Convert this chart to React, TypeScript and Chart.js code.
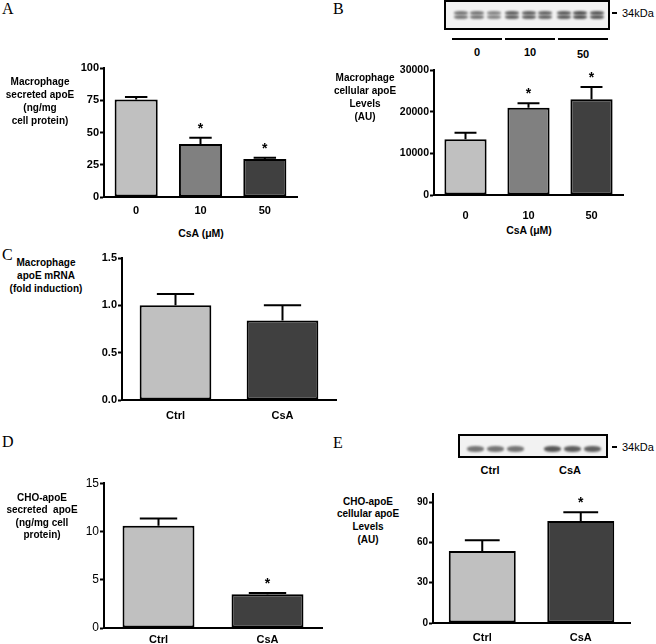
import React, { useEffect, useRef } from 'react';
import { Chart, registerables } from 'chart.js';

Chart.register(...registerables);

// ---------- DATA ----------
// Panel A: macrophage secreted apoE (ng/mg cell protein)
const aCategories = ['0', '10', '50'];
const aMeans = [75.5, 41, 29.5];
const aErrors = [2, 5, 1];
const aStars = [false, true, true];
const aTicks = [0, 25, 50, 75, 100];
const aMax = 100;

// Panel B: macrophage cellular apoE levels (AU)
const bCategories = ['0', '10', '50'];
const bMeans = [13400, 20950, 23000];
const bErrors = [1550, 1050, 2900];
const bStars = [false, true, true];
const bTicks = [0, 10000, 20000, 30000];
const bMax = 30000;

// Panel C: macrophage apoE mRNA (fold induction)
const cCategories = ['Ctrl', 'CsA'];
const cMeans = [1.0, 0.84];
const cErrors = [0.12, 0.16];
const cStars = [false, false];
const cTicks = [0, 0.5, 1.0, 1.5];
const cMax = 1.5;

// Panel D: CHO-apoE secreted apoE (ng/mg cell protein)
const dCategories = ['Ctrl', 'CsA'];
const dMeans = [10.6, 3.5];
const dErrors = [0.75, 0.12];
const dStars = [false, true];
const dTicks = [0, 5, 10, 15];
const dMax = 15;

// Panel E: CHO-apoE cellular apoE levels (AU)
const eCategories = ['Ctrl', 'CsA'];
const eMeans = [53.5, 76];
const eErrors = [8, 6.5];
const eStars = [false, true];
const eTicks = [0, 30, 60, 90];
const eMax = 96;

// Western blot band intensities (0..1)
const bBlotLanes = [0.6, 0.6, 0.5, 0.75, 0.75, 0.72, 0.78, 0.85, 0.8];
const eBlotLanes = [0.62, 0.62, 0.62, 0.82, 0.78, 0.76];

const colors3 = ['#c0c0c0', '#808080', '#404040'];
const colors2 = ['#c0c0c0', '#404040'];

const SANS = "'Liberation Sans', Arial, Helvetica, sans-serif";
const SERIF = "'Liberation Serif', 'Times New Roman', serif";

// ---------- PLUGIN: error bars + significance stars ----------
const errorBarPlugin = {
  id: 'errorBars',
  afterDatasetsDraw(chart: any) {
    const ctx = chart.ctx;
    const ds: any = chart.data.datasets[0];
    const meta = chart.getDatasetMeta(0);
    const yScale = chart.scales.y;
    meta.data.forEach((bar: any, i: number) => {
      const topPx = yScale.getPixelForValue(ds.data[i] + ds.errors[i]);
      const half = bar.width * 0.26;
      ctx.save();
      ctx.strokeStyle = '#000';
      ctx.lineWidth = 2;
      ctx.beginPath();
      ctx.moveTo(bar.x, bar.y);
      ctx.lineTo(bar.x, topPx);
      ctx.moveTo(bar.x - half, topPx);
      ctx.lineTo(bar.x + half, topPx);
      ctx.stroke();
      if (ds.stars[i]) {
        ctx.fillStyle = '#000';
        ctx.font = `bold 14px ${SANS}`;
        ctx.textAlign = 'center';
        ctx.textBaseline = 'middle';
        ctx.fillText('*', bar.x, topPx - 9);
      }
      ctx.restore();
    });
  },
};

type PanelCfg = {
  categories: string[];
  means: number[];
  errors: number[];
  stars: boolean[];
  colors: string[];
  max: number;
  tickVals: number[];
  decimals: number;
  yW: number;
  xH: number;
  xPad: number;
  yBold: boolean;
  yFont: number;
  barPct: number;
  left: number;
  top: number;
  width: number;
  height: number;
};

const PAD_TOP = 8;
const PAD_RIGHT = 4;

function BarPanel(p: PanelCfg) {
  const ref = useRef<HTMLCanvasElement>(null);
  useEffect(() => {
    if (!ref.current) return;
    const chart = new Chart(ref.current, {
      type: 'bar',
      data: {
        labels: p.categories,
        datasets: [
          {
            data: p.means,
            errors: p.errors,
            stars: p.stars,
            backgroundColor: p.colors,
            borderColor: '#000',
            borderWidth: 2,
            borderSkipped: false,
            barPercentage: p.barPct,
            categoryPercentage: 1,
          } as any,
        ],
      },
      options: {
        animation: false,
        responsive: false,
        devicePixelRatio: 1,
        events: [],
        layout: {
          autoPadding: false,
          padding: { top: PAD_TOP, right: PAD_RIGHT, left: 0, bottom: 0 },
        },
        plugins: {
          legend: { display: false },
          tooltip: { enabled: false },
        },
        scales: {
          x: {
            grid: { display: false, drawTicks: false },
            border: { display: true, color: '#000', width: 2 },
            ticks: {
              color: '#000',
              padding: p.xPad,
              font: { family: SANS, size: 11, weight: 'bold' },
            },
            afterFit: (s: any) => {
              s.height = p.xH;
            },
          },
          y: {
            min: 0,
            max: p.max,
            grid: {
              display: true,
              drawOnChartArea: false,
              drawTicks: true,
              tickLength: 4,
              tickWidth: 2,
              color: '#000',
            },
            border: { display: true, color: '#000', width: 2 },
            ticks: {
              color: '#000',
              padding: 1,
              font: { family: SANS, size: p.yFont, weight: p.yBold ? 'bold' : 'normal' },
              callback: (v: any) => Number(v).toFixed(p.decimals),
            },
            afterBuildTicks: (s: any) => {
              s.ticks = p.tickVals.map((v) => ({ value: v }));
            },
            afterFit: (s: any) => {
              s.width = p.yW;
            },
          },
        },
      },
      plugins: [errorBarPlugin],
    });
    return () => chart.destroy();
  }, []);
  return (
    <canvas
      ref={ref}
      width={p.width}
      height={p.height}
      style={{ position: 'absolute', left: p.left, top: p.top, width: p.width, height: p.height }}
    />
  );
}

// chart area (page coords) -> canvas placement
function place(x0: number, top: number, x1: number, bottom: number, yW: number, xH: number) {
  return {
    left: x0 - yW,
    top: top - PAD_TOP,
    width: x1 - x0 + yW + PAD_RIGHT,
    height: bottom - top + PAD_TOP + xH,
    yW,
    xH,
  };
}

function Txt(props: {
  x: number;
  y: number;
  text: string;
  size?: number;
  bold?: boolean;
  family?: string;
  align?: 'center' | 'left';
  lh?: number;
}) {
  const size = props.size ?? 11;
  const lh = props.lh ?? 13;
  const lines = props.text.split('\n').length;
  return (
    <div
      style={{
        position: 'absolute',
        left: props.x,
        top: props.y - lh / 2,
        transform: props.align === 'left' ? 'none' : 'translateX(-50%)',
        fontFamily: props.family ?? SANS,
        fontSize: size,
        fontWeight: props.bold ? 'bold' : 'normal',
        lineHeight: lh + 'px',
        whiteSpace: 'pre',
        textAlign: 'center',
        color: '#000',
        height: lines * lh,
      }}
    >
      {props.text}
    </div>
  );
}

function Blot(props: {
  left: number;
  top: number;
  width: number;
  height: number;
  lanes: number[];
  laneX: number[];
  bandY: number;
  double: boolean;
  bandW: number;
}) {
  return (
    <div
      style={{
        position: 'absolute',
        left: props.left,
        top: props.top,
        width: props.width,
        height: props.height,
        boxSizing: 'border-box',
        border: '2px solid #000',
        background: '#f2f2f2',
        overflow: 'hidden',
      }}
    >
      {props.lanes.map((v, i) => {
        const shade = Math.round(210 - v * 150);
        const col = `rgb(${shade},${shade},${shade})`;
        const bands = props.double ? [-2.2, 2.0] : [0];
        return bands.map((dy, j) => (
          <div
            key={i + '-' + j}
            style={{
              position: 'absolute',
              left: props.laneX[i] - props.left - props.bandW / 2,
              top: props.bandY - props.top + dy - (props.double ? 2 : 3),
              width: props.bandW,
              height: props.double ? 4 : 6,
              borderRadius: '45%',
              background: col,
              filter: 'blur(0.8px)',
            }}
          />
        ));
      })}
    </div>
  );
}

function Line(props: { x1: number; x2: number; y: number; h?: number }) {
  return (
    <div
      style={{
        position: 'absolute',
        left: props.x1,
        top: props.y - (props.h ?? 2) / 2,
        width: props.x2 - props.x1,
        height: props.h ?? 2,
        background: '#000',
      }}
    />
  );
}

export default function App() {
  const pA = place(104, 68, 297, 197, 40, 24);
  const pB = place(434, 70, 623, 195, 50, 24);
  const pC = place(122, 258, 336, 400, 35, 24);
  const pD = place(104, 483, 322, 628, 30, 16);
  const pE = place(433, 494, 630, 623, 30, 21);

  return (
    <div
      style={{
        position: 'fixed',
        left: 0,
        top: 0,
        width: 656,
        height: 644,
        background: '#fff',
        overflow: 'hidden',
      }}
    >
      {/* Panel letters */}
      <Txt x={2} y={9} text="A" size={16} family={SERIF} align="left" lh={18} />
      <Txt x={333} y={9} text="B" size={16} family={SERIF} align="left" lh={18} />
      <Txt x={2} y={255} text="C" size={16} family={SERIF} align="left" lh={18} />
      <Txt x={2} y={442} text="D" size={16} family={SERIF} align="left" lh={18} />
      <Txt x={333} y={443} text="E" size={16} family={SERIF} align="left" lh={18} />

      {/* Panel A */}
      <BarPanel
        {...pA}
        categories={aCategories}
        means={aMeans}
        errors={aErrors}
        stars={aStars}
        colors={colors3}
        max={aMax}
        tickVals={aTicks}
        decimals={0}
        xPad={7}
        yBold={true}
        yFont={11}
        barPct={0.67}
      />
      <Txt x={40} y={81} text={'Macrophage\nsecreted apoE\n(ng/mg\ncell protein)'} size={10} bold lh={13} />
      <Txt x={201} y={233} text={'CsA (\u03bcM)'} size={10.5} bold />

      {/* Panel B */}
      <Blot
        left={444}
        top={0}
        width={166}
        height={30}
        lanes={bBlotLanes}
        laneX={[459, 475, 492, 510, 527, 543, 562, 578, 595]}
        bandY={13}
        double={true}
        bandW={14}
      />
      <div style={{ position: 'absolute', left: 444, top: 9, width: 2, height: 2, background: '#000' }} />
      <Line x1={612} x2={617} y={13} />
      <Txt x={622} y={13} text="34kDa" size={11} align="left" />
      <Line x1={452} x2={502} y={39} />
      <Line x1={505} x2={555} y={39} />
      <Line x1={558} x2={608} y={39} />
      <Txt x={477} y={52} text="0" size={11} bold />
      <Txt x={530} y={52} text="10" size={11} bold />
      <Txt x={583} y={54} text="50" size={11} bold />
      <BarPanel
        {...pB}
        categories={bCategories}
        means={bMeans}
        errors={bErrors}
        stars={bStars}
        colors={colors3}
        max={bMax}
        tickVals={bTicks}
        decimals={0}
        xPad={14}
        yBold={true}
        yFont={10.5}
        barPct={0.67}
      />
      <Txt x={365} y={77} text={'Macrophage\ncellular apoE\nLevels\n(AU)'} size={10} bold lh={13} />
      <Txt x={529} y={230} text={'CsA (\u03bcM)'} size={10.5} bold />

      {/* Panel C */}
      <BarPanel
        {...pC}
        categories={cCategories}
        means={cMeans}
        errors={cErrors}
        stars={cStars}
        colors={colors2}
        max={cMax}
        tickVals={cTicks}
        decimals={1}
        xPad={9}
        yBold={true}
        yFont={11}
        barPct={0.67}
      />
      <Txt x={46} y={262} text={'Macrophage\napoE mRNA\n(fold induction)'} size={10} bold lh={13} />

      {/* Panel D */}
      <BarPanel
        {...pD}
        categories={dCategories}
        means={dMeans}
        errors={dErrors}
        stars={dStars}
        colors={colors2}
        max={dMax}
        tickVals={dTicks}
        decimals={0}
        xPad={5}
        yBold={false}
        yFont={12}
        barPct={0.66}
      />
      <Txt x={42} y={498} text={'CHO-apoE\nsecreted  apoE\n(ng/mg cell\nprotein)'} size={10} bold lh={12.5} />

      {/* Panel E */}
      <Blot
        left={458}
        top={434}
        width={150}
        height={24}
        lanes={eBlotLanes}
        laneX={[473, 493, 513, 550, 570, 590]}
        bandY={447}
        double={false}
        bandW={17}
      />
      <Line x1={612} x2={617} y={447} />
      <Txt x={622} y={447} text="34kDa" size={11} align="left" />
      <Txt x={490} y={470} text="Ctrl" size={11} bold />
      <Txt x={570} y={470} text="CsA" size={11} bold />
      <BarPanel
        {...pE}
        categories={eCategories}
        means={eMeans}
        errors={eErrors}
        stars={eStars}
        colors={colors2}
        max={eMax}
        tickVals={eTicks}
        decimals={0}
        xPad={8}
        yBold={true}
        yFont={10}
        barPct={0.68}
      />
      <Txt x={368} y={502} text={'CHO-apoE\ncellular apoE\nLevels\n(AU)'} size={10} bold lh={12.7} />
    </div>
  );
}
